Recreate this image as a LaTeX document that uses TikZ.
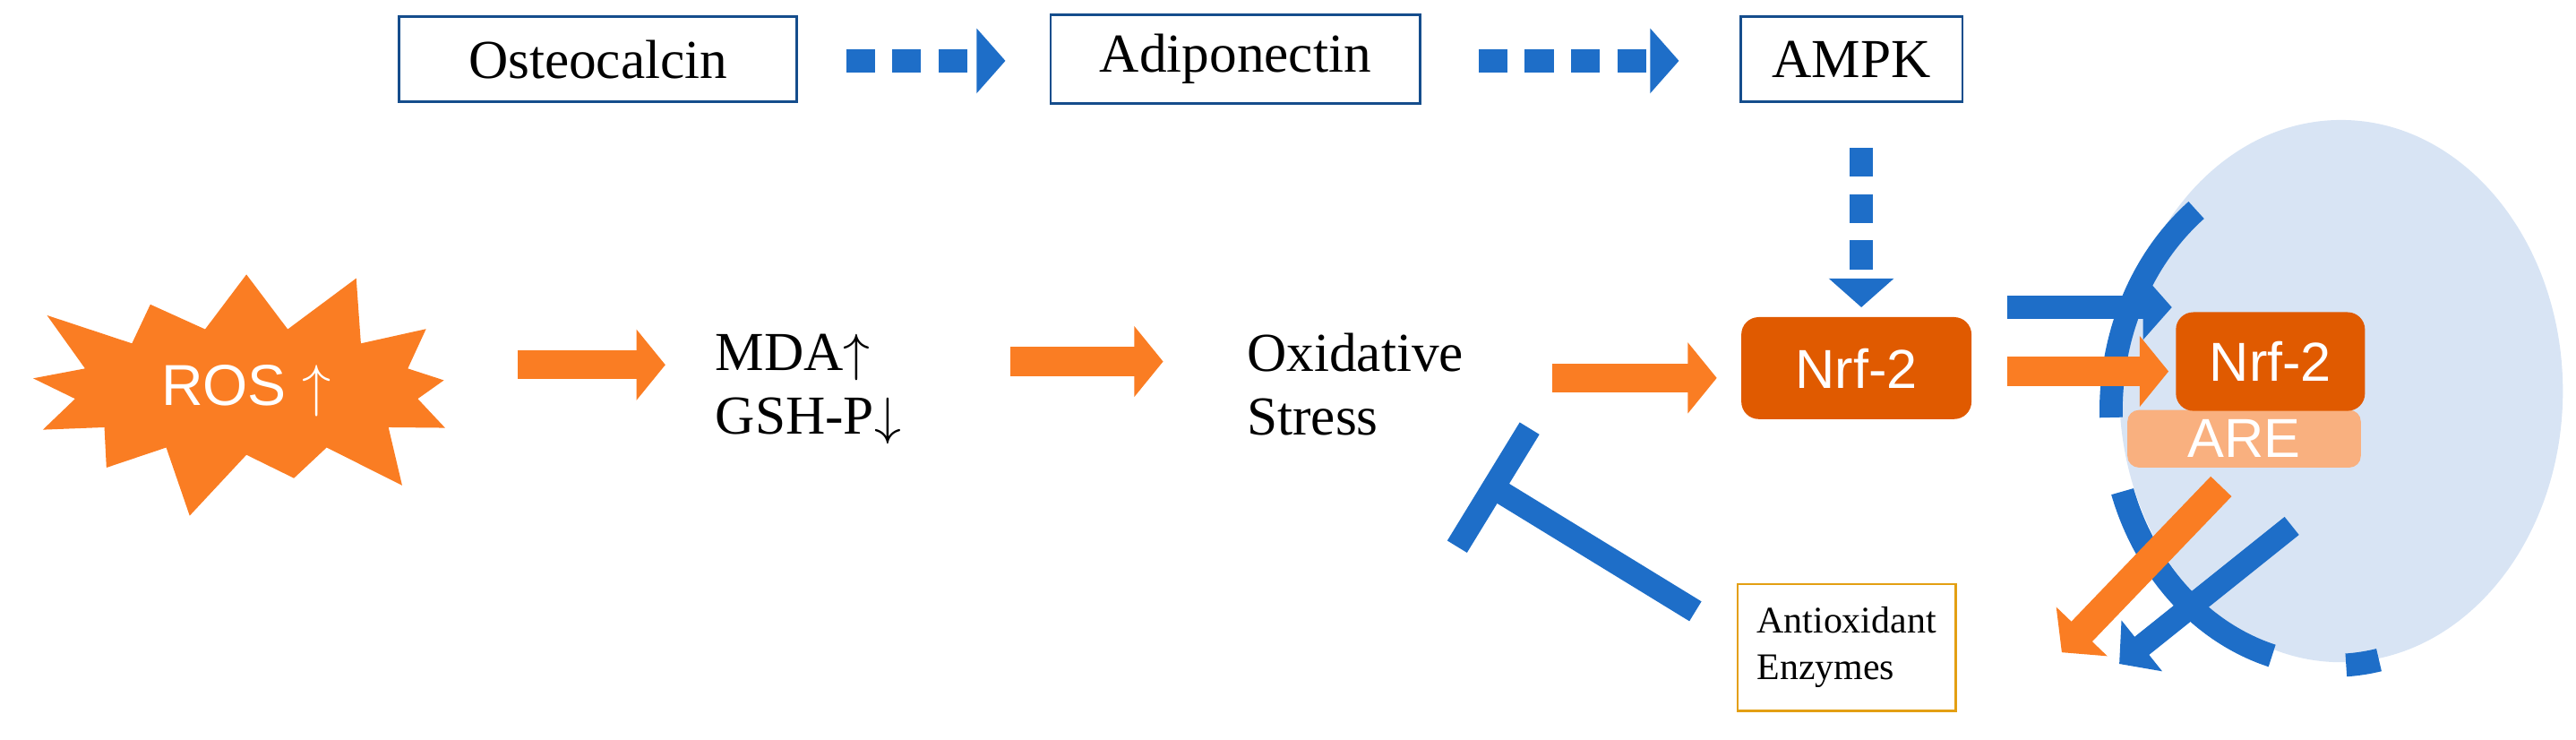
\documentclass[tikz,border=0pt]{standalone}
\usepackage{fontspec}
\setmainfont{Liberation Serif}
\newfontfamily\sansf{Liberation Sans}
\usetikzlibrary{arrows.meta,shapes.symbols,positioning}
\definecolor{oxblue}{RGB}{30,110,200}
\definecolor{oxorange}{RGB}{250,125,35}
\definecolor{oxdark}{RGB}{224,90,0}
\definecolor{oxpale}{RGB}{249,176,127}
\definecolor{oxcell}{RGB}{216,228,244}
\tikzset{
  protein/.style = {draw=oxblue!70!black, thin, minimum height=0.52cm, font=\fontsize{9.5}{11}\selectfont},
  plain/.style = {align=left, font=\fontsize{9.5}{11}\selectfont},
  nrf/.style = {fill=oxdark, rounded corners=3pt, text=white, font=\sansf\fontsize{9.5}{11}\selectfont,
    minimum width=1.4cm, minimum height=0.62cm},
  orangearrow/.style = {draw=oxorange, line width=5pt, -{Triangle[length=5pt,width=12pt]}},
  bluearrow/.style = {draw=oxblue, line width=4pt, -{Triangle[length=5pt,width=11pt]}},
  dasharrow/.style = {draw=oxblue, line width=4pt, dash pattern=on 5pt off 3pt, -{Triangle[length=5pt,width=11pt]}},
}
\begin{document}
\begin{tikzpicture}[x=0.01cm,y=-0.01cm]
  \useasboundingbox (0,0) rectangle (1568,450);
  % nucleus
  \fill[oxcell] (1425,238) ellipse [x radius=135, y radius=165];
  \draw[oxblue, line width=4pt, dash pattern=on 40pt off 13pt]
    (1420,250) ++(-128:135 and 155) arc[start angle=-128, end angle=-282, x radius=135, y radius=155];
  % top row
  \node[protein, minimum width=2.42cm] (osteo) at (364,36) {Osteocalcin};
  \node[protein, minimum width=2.25cm] (adipo) at (752,36) {Adiponectin};
  \node[protein, minimum width=1.35cm] (ampk) at (1127,36) {AMPK};
  \coordinate (d1s) at (515,37);   \coordinate (d1e) at (612,37);
  \coordinate (d2s) at (900,37);   \coordinate (d2e) at (1022,37);
  \coordinate (d3s) at (1133,90);  \coordinate (d3e) at (1133,187);
  \draw[dasharrow] (d1s) -- (d1e);
  \draw[dasharrow] (d2s) -- (d2e);
  \draw[dasharrow] (d3s) -- (d3e);
  % main row
  \node[starburst, starburst points=13, starburst point height=0.45cm, fill=oxorange,
    minimum width=3.0cm, minimum height=1.45cm, text=white,
    font=\sansf\fontsize{10}{12}\selectfont] (ros) at (150,238) {ROS $\uparrow$};
  \node[plain] (mda) at (492,237) {MDA$\uparrow$\\GSH-P$\downarrow$};
  \node[plain] (stress) at (825,234) {Oxidative\\Stress};
  \node[nrf] (nrfa) at (1130,224) {Nrf-2};
  \node[fill=oxpale, rounded corners=2pt, text=white, font=\sansf\fontsize{9.5}{11}\selectfont,
    minimum width=1.42cm, minimum height=0.35cm, inner sep=0pt] (are) at (1366,267) {ARE};
  \node[nrf, minimum width=1.15cm, minimum height=0.6cm] (nrfb) at (1382,220) {Nrf-2};
  \node[draw=oxorange!60!yellow!90!black, thin, align=left, minimum width=1.32cm, minimum height=0.77cm,
    font=\fontsize{6.5}{8}\selectfont] (enz) at (1124,394) {Antioxidant\\Enzymes};
  \coordinate (a1s) at (315,222);  \coordinate (a1e) at (405,222);
  \coordinate (a2s) at (615,220);  \coordinate (a2e) at (708,220);
  \coordinate (a3s) at (945,230);  \coordinate (a3e) at (1045,230);
  \coordinate (a4s) at (1222,226); \coordinate (a4e) at (1320,226);
  \coordinate (b1s) at (1222,187); \coordinate (b1e) at (1322,187);
  \coordinate (a5s) at (1352,296); \coordinate (a5e) at (1255,397);
  \coordinate (b2s) at (1395,320); \coordinate (b2e) at (1290,404);
  \draw[orangearrow] (a1s) -- (a1e);
  \draw[orangearrow] (a2s) -- (a2e);
  \draw[orangearrow] (a3s) -- (a3e);
  \draw[orangearrow] (a4s) -- (a4e);
  \draw[bluearrow] (b1s) -- (b1e);
  \draw[orangearrow] (a5s) -- (a5e);
  \draw[bluearrow] (b2s) -- (b2e);
  % inhibition
  \coordinate (is) at (1032,372); \coordinate (ie) at (903,293);
  \draw[oxblue, line width=4pt, -{Bar[width=24pt]}] (is) -- (ie);
\end{tikzpicture}
\end{document}
